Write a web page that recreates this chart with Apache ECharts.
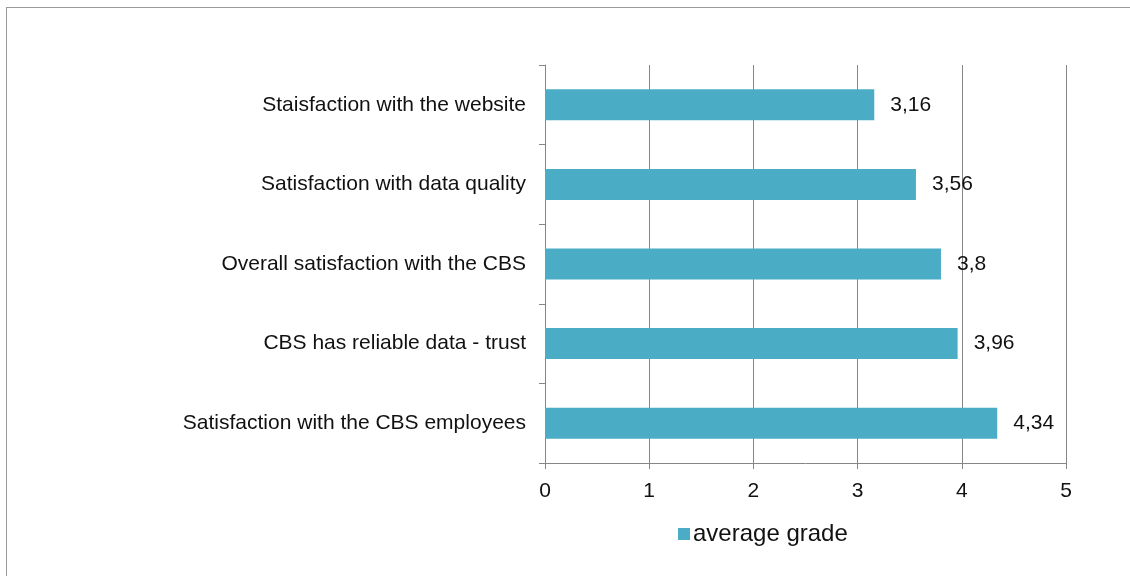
<!DOCTYPE html>
<html>
<head>
<meta charset="utf-8">
<script src="https://cdn.jsdelivr.net/npm/echarts@6/dist/echarts.min.js"></script>
<style>
  html, body { margin: 0; padding: 0; background: #fff; }
  #frame { position: absolute; left: 6px; top: 7px; width: 1200px; height: 700px; border: 1px solid #9a9a9a; }
  #chart { position: absolute; left: 0; top: 0; width: 1130px; height: 576px; }
</style>
</head>
<body>
<div id="frame"></div>
<div id="chart"></div>
<script>
// categories, top to bottom
const categories = [
    'Staisfaction with the website',
    'Satisfaction with data quality',
    'Overall satisfaction with the CBS',
    'CBS has reliable data - trust',
    'Satisfaction with the CBS employees'
];
const grades = [3.16, 3.56, 3.8, 3.96, 4.34];
const xTicks = [0, 1, 2, 3, 4, 5];

let myChart = echarts.init(document.getElementById('chart'));
let option = {
    animation: false,
    textStyle: { fontFamily: 'Liberation Sans, Arial, sans-serif' },
    legend: {
        data: ['average grade'],
        left: 678,
        top: 522,
        padding: 0,
        icon: 'rect',
        itemWidth: 12,
        itemHeight: 12,
        itemGap: 4,
        textStyle: { fontSize: 24, color: '#111', padding: [0, 0, 0, -2] }
    },
    grid: { left: 545, top: 65, width: 521, height: 398, containLabel: false },
    xAxis: {
        type: 'value',
        min: xTicks[0],
        max: xTicks[xTicks.length - 1],
        interval: 1,
        axisLine: { show: true, lineStyle: { color: '#868686' } },
        axisTick: { show: true, length: 6, lineStyle: { color: '#868686' } },
        axisLabel: { fontSize: 21, color: '#111', margin: 18 },
        splitLine: { show: true, lineStyle: { color: '#868686' } }
    },
    yAxis: {
        type: 'category',
        inverse: true,
        data: categories,
        axisLine: { show: true, lineStyle: { color: '#868686' } },
        axisTick: { show: true, length: 6, lineStyle: { color: '#868686' } },
        axisLabel: { fontSize: 21, color: '#111', margin: 19 }
    },
    series: [{
        name: 'average grade',
        type: 'bar',
        data: grades,
        barCategoryGap: '61%',
        itemStyle: { color: '#4bacc6' },
        label: {
            show: true,
            position: 'right',
            distance: 16,
            fontSize: 21,
            color: '#111',
            formatter: function (p) { return String(p.value).replace('.', ','); }
        }
    }]
};
myChart.setOption(option);
</script>
</body>
</html>
